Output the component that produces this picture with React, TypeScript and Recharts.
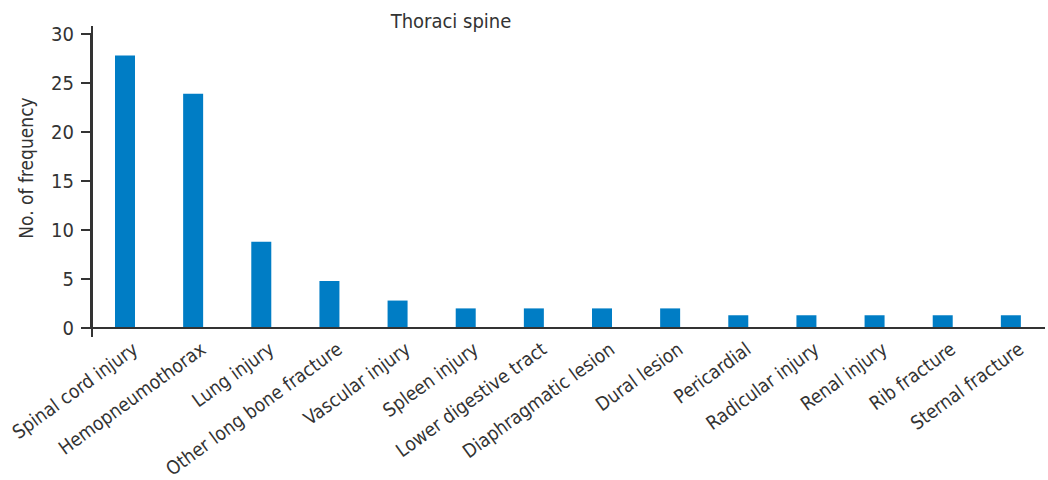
import React from "react";
import { BarChart, Bar, XAxis, YAxis } from "recharts";

const categories = [
  "Spinal cord injury",
  "Hemopneumothorax",
  "Lung injury",
  "Other long bone fracture",
  "Vascular injury",
  "Spleen injury",
  "Lower digestive tract",
  "Diaphragmatic lesion",
  "Dural lesion",
  "Pericardial",
  "Radicular injury",
  "Renal injury",
  "Rib fracture",
  "Sternal fracture",
];
const frequency = [27.8, 23.9, 8.8, 4.8, 2.8, 2, 2, 2, 2, 1.3, 1.3, 1.3, 1.3, 1.3];
const yTicks = [0, 5, 10, 15, 20, 25, 30];
const title = "Thoraci spine";
const yLabel = "No. of frequency";

const data = categories.map((name, i) => ({ name, value: frequency[i] }));

const FONT = "'Liberation Sans Narrow', 'DejaVu Sans Condensed', sans-serif";

const XTick = (props: any) => {
  const { x, y, payload } = props;
  return (
    <g transform={`translate(${x + 14},${y + 16})`}>
      <text
        textAnchor="end"
        transform="rotate(-36)"
        fontFamily={FONT}
        fontSize={19}
        fill="#333"
      >
        {payload.value}
      </text>
    </g>
  );
};

export default function App() {
  return (
    <div style={{ position: "absolute", left: 0, top: 0, width: 1048, height: 480, background: "#fff" }}>
      <BarChart
        width={1048}
        height={480}
        data={data}
        margin={{ top: 34, right: 3, left: 0, bottom: 0 }}
      >
        <text x={451} y={28} textAnchor="middle" fontFamily={FONT} fontSize={20} fill="#333">
          {title}
        </text>
        <text
          x={33}
          y={168}
          transform="rotate(-90, 33, 168)"
          textAnchor="middle"
          fontFamily={FONT}
          fontSize={19}
          fill="#333"
        >
          {yLabel}
        </text>
        <line x1={92} y1={26} x2={92} y2={337} stroke="#333" strokeWidth={2} />
        <XAxis
          dataKey="name"
          interval={0}
          height={152}
          tickLine={false}
          axisLine={{ stroke: "#333", strokeWidth: 2 }}
          tick={<XTick />}
        />
        <YAxis
          width={91}
          domain={[0, 30]}
          ticks={yTicks}
          tickSize={10}
          tickMargin={7}
          axisLine={{ stroke: "#333", strokeWidth: 2 }}
          tickLine={{ stroke: "#333", strokeWidth: 2 }}
          tick={{ fontFamily: FONT, fontSize: 20, fill: "#333" }}
        />
        <Bar dataKey="value" fill="#007DC5" barSize={20} isAnimationActive={false} />
      </BarChart>
    </div>
  );
}
